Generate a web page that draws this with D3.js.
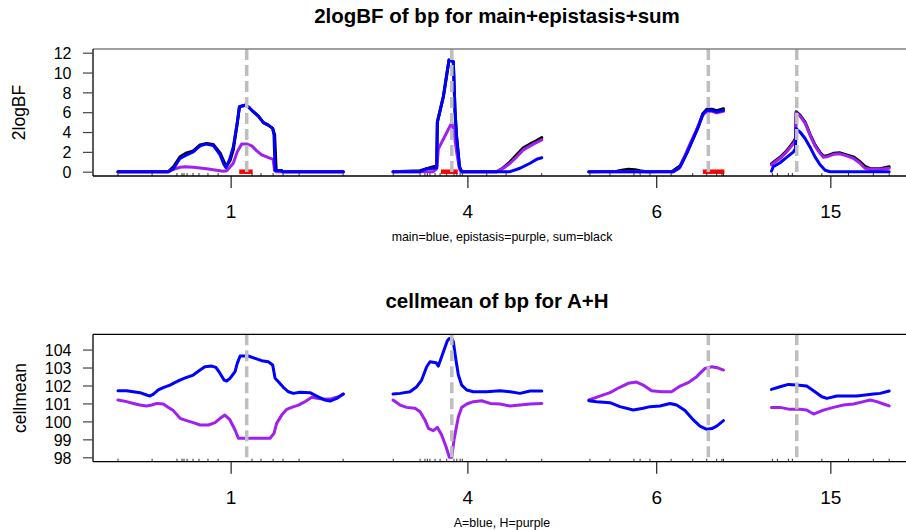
<!DOCTYPE html>
<html>
<head>
<meta charset="utf-8">
<script src="https://cdn.jsdelivr.net/npm/d3@7"></script>
<style>
  body { margin: 0; background: #fff; }
  text { font-family: 'Liberation Sans', Arial, sans-serif; fill: #000; }
</style>
</head>
<body>
<div id="chart"></div>
<script>
// Chromosome layout (cM), laid side by side with gaps
const chromosomes = ['1', '4', '6', '15']
const chrOffsets = [0, 125, 214, 297]
const chrLengths = [102.4, 67.6, 61.2, 53.5]
const qtlPos = [58.5, 26.7, 54.3, 11.5]
const redIntervals = [[55.1, 61.2], [21.8, 29.4], [51.8, 61.6]]
const markerPos = [
  [0, 15.5, 26.8, 29.1, 30, 31.4, 34.1, 36.8, 40.9, 45.5, 60.9, 65, 70.5, 75, 82.3, 102.3],
  [0.1, 12.3, 14.5, 15.6, 16.8, 19.1, 21.4, 24.4, 27.7, 29, 30.5, 31.5, 42.6, 51.4, 67.6],
  [0.5, 9.6, 20.5, 23.3, 27.8, 37.4, 47.2, 53.6, 58.1, 60.5, 61.2],
  [0.4, 2.7, 7.7, 9.5, 22.9, 35, 46.3, 53.5]
]

// 2logBF, [cM, value] per chromosome
const mainBF = [
  [[0,0],[22.9,0],[25.2,0.3],[28.2,1.35],[31.2,1.7],[34.2,2.0],[37.3,2.6],[40.3,2.8],[43.3,2.65],[44.8,2.2],[46.4,1.7],[48.2,0.7],[49.1,0.4],[50.9,1.35],[52.4,2.5],[54.2,4.9],[55.2,6.55],[57.7,6.7],[59.2,6.55],[61.5,6.05],[63.8,5.6],[66.1,4.95],[68.3,4.7],[70.3,4.37],[70.9,3.7],[71.4,0.15],[74.4,0.1],[75,0],[102.4,0]],
  [[0,0],[12.3,0],[15.3,0.3],[18.3,0.35],[19.85,0.4],[20.15,5.0],[22.9,7.6],[25.45,11.26],[27.4,11.1],[28.2,6.0],[28.9,3.5],[30.2,0.5],[31.2,0],[53.2,0],[57.7,0.35],[62.3,0.85],[65.3,1.25],[67.6,1.4]],
  [[0,0],[38.4,0],[41.5,0.5],[44.5,1.85],[47.5,3.35],[49.8,4.55],[51.8,5.8],[53.6,6.2],[55.9,6.2],[58.1,6.05],[61.2,6.2]],
  [[0,0.05],[0.8,0.5],[3.9,0.9],[6.9,1.45],[10,2.0],[10.9,2.35],[11.2,4.35],[13,4.0],[15.3,3.35],[17.5,2.5],[19.8,1.5],[22.1,0.7],[24.4,0.15],[26.6,0],[53.5,0]]
]
const epiBF = [
  [[0,0],[22.9,0],[25.2,0.25],[28.2,0.45],[30.5,0.5],[34.2,0.45],[40.3,0.3],[44.8,0.15],[47.8,0.05],[49.4,0.1],[52.4,0.85],[54.2,2.0],[56.2,2.8],[58.5,2.8],[60.8,2.6],[63.1,2.1],[65.3,1.7],[67.6,1.5],[70.5,1.25],[71.2,0.1],[72,0],[102.4,0]],
  [[0,0],[18.3,0],[19.85,0.3],[20.6,2.3],[23.6,3.6],[26.7,4.95],[27.7,4.0],[28.9,2.0],[30.2,0.3],[30.8,0],[47.1,0],[50.15,0.35],[53.2,0.85],[56.2,1.5],[59.2,2.2],[62.3,2.6],[65.3,2.95],[67.6,3.2]],
  [[0,0],[38,0],[41,0.3],[43,1.3],[46,2.8],[48.7,4.1],[51.8,5.7],[53.6,6.1],[55.9,6.1],[58.1,5.95],[61.2,6.1]],
  [[0,0.7],[3.9,1.35],[6.9,2.0],[10,2.85],[10.9,3.2],[11.2,5.95],[13,5.6],[15.3,4.9],[17.5,3.7],[19.8,2.6],[22.1,1.85],[23.6,1.45],[25.1,1.5],[28.2,1.75],[31.2,1.8],[34.2,1.6],[37.2,1.35],[40.3,0.85],[42.5,0.35],[44.8,0.25],[49.4,0.25],[53.5,0.35]]
]
const sumBF = [
  [[0,0],[22.9,0],[25.2,0.5],[28.2,1.5],[31.2,1.9],[34.2,2.1],[37.3,2.7],[40.3,2.85],[43.3,2.75],[46.4,1.9],[48.6,0.8],[49.4,0.6],[50.9,1.1],[52.4,2.2],[54.2,4.9],[55.2,6.55],[57.7,6.7],[59.2,6.55],[61.5,6.05],[63.8,5.6],[66.1,4.95],[68.3,4.7],[70.3,4.37],[71.2,3.7],[71.9,0.15],[74.4,0.1],[75,0],[102.4,0]],
  [[0,0],[12.3,0.1],[15.3,0.3],[18.3,0.5],[19.85,0.55],[20.15,5.0],[22.9,7.6],[25.45,11.26],[27.4,11.1],[28.2,6.0],[28.9,3.5],[30.2,0.5],[31.2,0],[47.1,0],[50.15,0.4],[53.2,1.0],[56.2,1.7],[59.2,2.4],[62.3,2.8],[65.3,3.15],[67.6,3.45]],
  [[0,0],[12.7,0.05],[15,0.15],[18,0.25],[21,0.2],[23.3,0.1],[26,0],[38,0.05],[41.5,0.6],[44.5,1.9],[47.5,3.4],[49.8,4.6],[51.8,5.85],[53.6,6.3],[55.9,6.3],[58.1,6.15],[61.2,6.35]],
  [[0,0.8],[3.9,1.45],[6.9,2.1],[10,3.0],[10.9,3.35],[11.2,6.05],[13,5.7],[15.3,5.0],[17.5,3.8],[19.8,2.7],[22.1,1.95],[23.6,1.55],[25.1,1.6],[28.2,1.85],[31.2,1.9],[34.2,1.7],[37.2,1.5],[40.3,1.0],[42.5,0.55],[44.8,0.3],[49.4,0.3],[53.5,0.5]]
]

// cell means, [cM, value] per chromosome
const cellA = [
  [[0,101.71],[3.9,101.71],[7,101.65],[10,101.6],[13,101.47],[14.55,101.41],[16.1,101.52],[18.3,101.75],[20.6,101.88],[23.6,102.02],[26.7,102.21],[28.9,102.34],[31.2,102.45],[34.2,102.58],[37.3,102.86],[39.5,103.04],[42.6,103.08],[44.5,103.01],[46.4,102.67],[48.2,102.3],[49.4,102.25],[50.9,102.4],[53.2,102.77],[54.2,103.23],[55.5,103.64],[59.2,103.64],[62.3,103.51],[65.3,103.38],[68.3,103.32],[70.3,103.14],[71.4,102.4],[72.9,102.21],[75.15,101.9],[77.4,101.65],[79.7,101.56],[82.7,101.62],[87.3,101.6],[90.3,101.41],[94.1,101.19],[96.4,101.13],[99.4,101.28],[102.4,101.52]],
  [[0,101.52],[3.2,101.56],[7.7,101.65],[10.8,101.93],[13,102.3],[15.3,103.04],[16.8,103.32],[19.55,103.27],[20.6,103.08],[22.9,103.88],[24.7,104.49],[25.6,104.62],[26.7,104.62],[27.4,104.44],[28.6,103.42],[29.7,102.58],[31.2,102.02],[33.5,101.75],[36.5,101.65],[42.6,101.65],[48.6,101.71],[53.2,101.65],[57.7,101.56],[62.3,101.69],[67.6,101.69]],
  [[0,101.15],[3.5,101.1],[9.6,101.04],[14.1,100.82],[20.2,100.63],[24.7,100.73],[27.8,100.82],[32.3,100.86],[36.9,101.0],[39.9,100.91],[43.7,100.6],[47.5,100.08],[50.5,99.74],[53.6,99.56],[55.9,99.6],[58.1,99.74],[61.2,100.04]],
  [[0,101.78],[3.9,101.93],[7.7,102.06],[11.5,102.02],[16,101.97],[19.1,101.71],[22.9,101.37],[25.2,101.28],[29.7,101.41],[34.2,101.41],[38.8,101.41],[42.6,101.47],[46.4,101.52],[49.4,101.56],[53.5,101.69]]
]
const cellH = [
  [[0,101.19],[3.9,101.1],[7,101.0],[10,100.91],[13,100.86],[15.3,100.91],[17.6,101.0],[20.6,100.97],[22.9,100.78],[25.15,100.6],[28.2,100.17],[31.2,100.04],[34.2,99.93],[37.3,99.8],[41.1,99.8],[44.1,99.93],[46.4,100.17],[48.6,100.35],[50.9,100.08],[53.2,99.52],[54.7,99.06],[58.5,99.06],[64.5,99.06],[69.1,99.06],[70.9,99.33],[72.1,99.89],[74.4,100.35],[76.7,100.67],[78.9,100.78],[82,100.91],[85,101.1],[88,101.34],[91.1,101.28],[94.1,101.23],[97.1,101.26],[100.2,101.37],[102.4,101.52]],
  [[0,101.19],[3.2,100.91],[6.2,100.78],[10,100.73],[12.3,100.54],[14.5,100.08],[16.1,99.61],[18.3,99.48],[20.15,99.67],[22.1,99.24],[24.1,98.59],[25.6,98.0],[26.7,98.0],[27.7,98.96],[29.7,100.26],[31.2,100.78],[33.5,100.97],[36.5,101.1],[40.3,101.15],[44.1,101.0],[48.6,100.97],[53.2,100.86],[57.7,100.91],[62.3,100.97],[67.6,101.0]],
  [[0,101.19],[5,101.41],[9.6,101.6],[14.1,101.9],[17.9,102.12],[21.7,102.19],[24.7,102.02],[28.5,101.71],[33.1,101.65],[37.6,101.65],[41.5,101.97],[45.2,102.16],[49,102.49],[52.8,102.95],[55.9,103.04],[58.9,102.97],[61.2,102.86]],
  [[0,100.78],[3.9,100.78],[8.4,100.67],[13,100.67],[16,100.63],[19.1,100.41],[23.6,100.63],[28.2,100.78],[32.7,100.91],[37.3,100.97],[41.8,101.1],[44.8,101.19],[47.9,101.1],[50.9,100.97],[53.5,100.86]]
]

const bfTicks = [0, 2, 4, 6, 8, 10, 12]
const cellTicks = [98, 99, 100, 101, 102, 103, 104]

const width = 906
const height = 530
const plotLeft = 93

const svg = d3.select('#chart')
  .append('svg')
  .attr('width', width)
  .attr('height', height)

const xScale = d3.scaleLinear().domain([-11.36, 363.6]).range([plotLeft, 918])
const midpoints = chromosomes.map((c, i) => chrOffsets[i] + chrLengths[i] / 2)

function drawPanel(p) {
  const yScale = d3.scaleLinear().domain(p.yDomain).range([p.bottom, p.top])
  const g = svg.append('g')

  // Curves, one path per chromosome
  p.series.forEach(s => {
    s.data.forEach((chrData, i) => {
      const line = d3.line()
        .x(d => xScale(chrOffsets[i] + d[0]))
        .y(d => yScale(d[1]))
      g.append('path')
        .datum(chrData)
        .attr('fill', 'none')
        .attr('stroke', s.color)
        .attr('stroke-width', 3)
        .attr('stroke-linejoin', 'round')
        .attr('stroke-linecap', 'round')
        .attr('d', line)
    })
  })

  // Red intervals along zero
  if (p.red) {
    redIntervals.forEach((iv, i) => {
      g.append('line')
        .attr('x1', xScale(chrOffsets[i] + iv[0]))
        .attr('x2', xScale(chrOffsets[i] + iv[1]))
        .attr('y1', yScale(0))
        .attr('y2', yScale(0))
        .attr('stroke', '#ff0000')
        .attr('stroke-width', 4.5)
    })
  }

  // QTL dashed lines
  qtlPos.forEach((q, i) => {
    g.append('line')
      .attr('x1', xScale(chrOffsets[i] + q))
      .attr('x2', xScale(chrOffsets[i] + q))
      .attr('y1', p.top)
      .attr('y2', p.bottom)
      .attr('stroke', '#bebebe')
      .attr('stroke-width', 3.5)
      .attr('stroke-dasharray', '11,5')
  })

  // Marker rug
  markerPos.forEach((ms, i) => {
    ms.forEach(m => {
      g.append('line')
        .attr('x1', xScale(chrOffsets[i] + m))
        .attr('x2', xScale(chrOffsets[i] + m))
        .attr('y1', p.bottom)
        .attr('y2', p.bottom - 3)
        .attr('stroke', '#333')
        .attr('stroke-width', 1)
    })
  })

  // Box
  g.append('line')
    .attr('x1', plotLeft).attr('x2', width)
    .attr('y1', p.top).attr('y2', p.top)
    .attr('stroke', p.topColor).attr('stroke-width', 1.3)
  g.append('line')
    .attr('x1', plotLeft).attr('x2', plotLeft)
    .attr('y1', p.top).attr('y2', p.bottom)
    .attr('stroke', '#000').attr('stroke-width', 1.3)

  // Y axis
  const yAxis = g.append('g')
    .attr('transform', `translate(${plotLeft},0)`)
    .call(d3.axisLeft(yScale).tickValues(p.ticks).tickSize(10).tickSizeOuter(0).tickPadding(11.5))
  yAxis.select('.domain').remove()
  yAxis.selectAll('.tick line').attr('stroke', '#444').attr('stroke-width', 1.2)
  yAxis.selectAll('.tick text')
    .style('font-size', '16px')
    .attr('dy', '0.36em')

  // X axis
  const xAxis = g.append('g')
    .attr('transform', `translate(0,${p.bottom})`)
    .call(d3.axisBottom(xScale).tickValues(midpoints).tickSize(12).tickSizeOuter(0)
      .tickPadding(17).tickFormat((d, i) => chromosomes[i]))
  xAxis.select('.domain').remove()
  xAxis.selectAll('.tick line').attr('stroke', '#333').attr('stroke-width', 1.3)
  xAxis.selectAll('.tick text').style('font-size', '19px')
  g.append('line')
    .attr('x1', plotLeft).attr('x2', width)
    .attr('y1', p.bottom).attr('y2', p.bottom)
    .attr('stroke', '#000').attr('stroke-width', 1.3)

  // Titles and labels
  g.append('text')
    .attr('x', 497).attr('y', p.top - 33)
    .attr('dy', '0.35em')
    .attr('text-anchor', 'middle')
    .style('font-size', '20.5px')
    .style('font-weight', 'bold')
    .text(p.title)

  g.append('text')
    .attr('transform', `translate(${p.ylabX},${(p.top + p.bottom) / 2}) rotate(-90)`)
    .attr('dy', '0.35em')
    .attr('text-anchor', 'middle')
    .style('font-size', '17.5px')
    .text(p.ylab)

  g.append('text')
    .attr('x', 502).attr('y', p.bottom + 60.5)
    .attr('dy', '0.35em')
    .attr('text-anchor', 'middle')
    .style('font-size', '12.4px')
    .text(p.xlab)
}

drawPanel({
  top: 49, bottom: 176,
  yDomain: [-0.434, 12.373],
  ticks: bfTicks,
  series: [
    { data: sumBF, color: '#000000' },
    { data: epiBF, color: '#a020f0' },
    { data: mainBF, color: '#0000ff' }
  ],
  red: true,
  topColor: '#808080',
  title: '2logBF of bp for main+epistasis+sum',
  ylab: '2logBF',
  ylabX: 18.5,
  xlab: 'main=blue, epistasis=purple, sum=black'
})

drawPanel({
  top: 334.3, bottom: 461.7,
  yDomain: [97.755, 104.85],
  ticks: cellTicks,
  series: [
    { data: cellH, color: '#a020f0' },
    { data: cellA, color: '#0000ff' }
  ],
  red: false,
  topColor: '#000000',
  title: 'cellmean of bp for A+H',
  ylab: 'cellmean',
  ylabX: 20,
  xlab: 'A=blue, H=purple'
})
</script>
</body>
</html>
